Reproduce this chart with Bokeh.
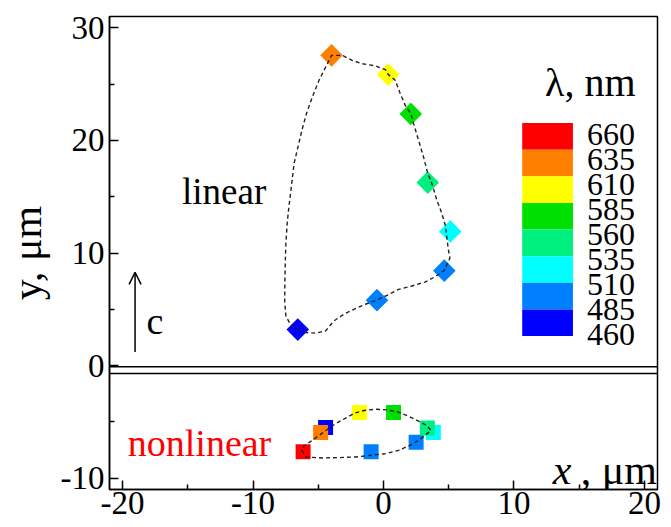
import math
from bokeh.plotting import figure
from bokeh.models import Range1d, FixedTicker, Span, Arrow, OpenHead
from bokeh.core.properties import value
from bokeh.embed import file_html
from bokeh.resources import INLINE

# ---------------- data ----------------
band_colors = ["#FF0000", "#FF8000", "#FFFF00", "#00E000",
               "#00F080", "#00FFFF", "#0080FF", "#0000FF"]
wavelength_labels = ["660", "635", "610", "585", "560", "535", "510", "485", "460"]

lin_x = [-6.57, -0.50, 4.66, 5.12, 3.39, 2.09, 0.36, -3.98]
lin_y = [3.20, 5.81, 8.43, 11.91, 16.25, 22.35, 25.84, 27.55]
lin_color = ["#0000FF", "#0080FF", "#0080FF", "#00FFFF",
             "#00F080", "#00E000", "#FFFF00", "#FF8000"]

nl_x = [-4.44, -0.95, 2.50, 3.82, 3.36, 0.77, -1.84, -4.82, -6.16]
nl_y = [-5.49, -7.64, -6.81, -5.93, -5.55, -4.16, -4.16, -5.93, -7.64]
nl_color = ["#0000FF", "#0080FF", "#0080FF", "#00FFFF",
            "#00F080", "#00E000", "#FFFF00", "#FF8000", "#FF0000"]

lin_curve_x = [-6.57, -5.96, -5.20, -4.43, -3.80, -3.04, -2.15, -1.39, -0.50, 0.27,
               1.15, 2.17, 3.19, 3.95, 4.66, 5.09, 4.97, 4.84, 4.76, 4.46,
               4.08, 3.70, 3.39, 3.06, 2.68, 2.30, 2.10, 1.66, 1.28, 0.90,
               0.37, 0.14, -0.62, -1.64, -2.40, -3.16, -3.98, -4.43, -4.94, -5.45,
               -5.90, -6.25, -6.55, -6.85, -7.00, -7.15, -7.25, -7.38, -7.48, -7.53,
               -7.56, -7.57, -7.48, -7.15, -6.57]
lin_curve_y = [3.21, 2.94, 2.88, 3.09, 3.97, 4.56, 5.06, 5.45, 5.83, 6.24,
               6.77, 7.07, 7.42, 7.89, 8.45, 9.57, 10.31, 11.49, 12.37, 13.55,
               14.73, 16.20, 17.09, 18.56, 20.03, 21.51, 22.36, 23.13, 24.16, 25.34,
               25.84, 26.28, 26.61, 26.81, 27.11, 27.55, 27.55, 26.52, 25.34, 23.87,
               22.39, 20.92, 19.44, 17.97, 16.50, 15.02, 14.14, 12.67, 10.90, 9.13,
               7.36, 5.59, 4.41, 3.68, 3.21]

nl_curve_x = [-6.26, -5.96, -4.69, -3.42, -2.15, -0.95, 0.14, 1.15, 2.04, 2.68,
              3.19, 3.64, 3.31, 2.68, 1.92, 1.15, 0.27, -0.62, -1.39, -2.15,
              -2.91, -3.67, -4.31, -4.94, -5.58, -6.09, -6.26]
nl_curve_y = [-7.52, -8.11, -8.20, -8.17, -8.11, -7.96, -7.82, -7.52, -7.08, -6.64,
              -6.20, -5.75, -5.31, -4.93, -4.49, -4.13, -3.93, -3.87, -3.96, -4.19,
              -4.66, -5.16, -5.67, -6.20, -6.73, -7.14, -7.52]

x_ticks = [-20, -10, 0, 10, 20]
x_tick_labels = ["-20", "-10", "0", "10", "20"]
x_minor_ticks = [-15, -5, 5, 15]
y_ticks = [-10, 0, 10, 20, 30]
y_tick_labels = ["-10", "0", "10", "20", "30"]
y_minor_ticks = [-5, 5, 15, 25]

# ---------------- layout constants ----------------
X_RANGE = (-21, 21)
Y_RANGE = (-11, 31)
BREAK_LINES = [-0.1, -0.7]
CB_LEFT, CB_RIGHT, CB_TOP, CB_BOTTOM = 10.63, 14.52, 21.54, 2.62
CB_LBL_X, CB_LBL_TOP, CB_LBL_BOTTOM = 15.59, 20.48, 2.80
FONT = "Liberation Serif"

p = figure(width=671, height=527, x_range=Range1d(*X_RANGE), y_range=Range1d(*Y_RANGE),
           output_backend="svg", toolbar_location=None,
           min_border_left=106, min_border_right=14, min_border_top=16, min_border_bottom=38)
p.grid.visible = False
p.background_fill_color = "white"
p.border_fill_color = "white"
p.outline_line_color = "black"
p.outline_line_width = 1.5

p.xaxis.ticker = FixedTicker(ticks=x_ticks, minor_ticks=x_minor_ticks)
p.xaxis.major_label_overrides = dict(zip(x_ticks, x_tick_labels))
p.yaxis.ticker = FixedTicker(ticks=y_ticks, minor_ticks=y_minor_ticks)
p.yaxis.major_label_overrides = dict(zip(y_ticks, y_tick_labels))
for ax in (p.xaxis[0], p.yaxis[0]):
    ax.axis_line_width = 1.5
    ax.axis_line_color = "black"
    ax.major_tick_in = 9
    ax.major_tick_out = 0
    ax.minor_tick_in = 5
    ax.minor_tick_out = 0
    ax.major_tick_line_width = 1.5
    ax.minor_tick_line_width = 1.5
    ax.major_tick_line_color = "black"
    ax.minor_tick_line_color = "black"
    ax.major_label_text_font = FONT
    ax.major_label_text_font_size = "33px"
    ax.major_label_text_color = "black"
p.xaxis.major_label_standoff = 2
p.yaxis.major_label_standoff = 5
p.yaxis.axis_label = "y, μm"
p.yaxis.axis_label_text_font = FONT
p.yaxis.axis_label_text_font_size = "42px"
p.yaxis.axis_label_text_font_style = "normal"
p.yaxis.axis_label_text_color = "black"
p.yaxis.axis_label_standoff = 8

# axis break (double line)
for loc in BREAK_LINES:
    p.add_layout(Span(location=loc, dimension="width", line_color="black", line_width=1.5))

# markers
p.scatter(lin_x, lin_y, marker="square", angle=math.pi / 4, size=16,
          fill_color=lin_color, line_color=None)
p.scatter(nl_x, nl_y, marker="square", size=15,
          fill_color=nl_color, line_color=None)

# dashed guide curves
p.line(lin_curve_x, lin_curve_y, line_color="#222222", line_width=1.4, line_dash="4 3")
p.line(nl_curve_x, nl_curve_y, line_color="#222222", line_width=1.4, line_dash="4 3")

# colour bar legend
n = len(band_colors)
h = (CB_TOP - CB_BOTTOM) / n
p.quad(left=[CB_LEFT] * n, right=[CB_RIGHT] * n,
       top=[CB_TOP - i * h for i in range(n)],
       bottom=[CB_TOP - (i + 1) * h for i in range(n)],
       fill_color=band_colors, line_color=None)
m = len(wavelength_labels)
step = (CB_LBL_TOP - CB_LBL_BOTTOM) / (m - 1)
p.text(x=[CB_LBL_X] * m, y=[CB_LBL_TOP - i * step for i in range(m)], text=wavelength_labels,
       text_font=value(FONT), text_font_size="32px", text_baseline="middle",
       text_align="left", text_color="black")

# annotations
p.text(x=[19.32], y=[25.16], text=["λ, nm"], text_font=value(FONT), text_font_size="40px",
       text_align="right", text_baseline="alphabetic", text_color="black")
p.text(x=[12.97], y=[-9.29], text=["x"], text_font=value(FONT), text_font_size="42px",
       text_font_style="italic", text_align="left", text_baseline="alphabetic", text_color="black")
p.text(x=[20.95], y=[-9.29], text=[", μm"], text_font=value(FONT), text_font_size="42px",
       text_align="right", text_baseline="alphabetic", text_color="black")
p.text(x=[-15.44], y=[15.47], text=["linear"], text_font=value(FONT), text_font_size="37px",
       text_align="left", text_baseline="alphabetic", text_color="black")
p.text(x=[-19.6], y=[-6.9], text=["nonlinear"], text_font=value(FONT), text_font_size="38px",
       text_align="left", text_baseline="alphabetic", text_color="#FF0000")
p.text(x=[-18.16], y=[3.97], text=["c"], text_font=value(FONT), text_font_size="38px",
       text_align="left", text_baseline="alphabetic", text_color="black")
p.add_layout(Arrow(end=OpenHead(size=12, line_width=1.5, line_color="black"),
                   x_start=-19.04, y_start=1.2, x_end=-19.04, y_end=8.28,
                   line_width=1.5, line_color="black"))

open("out.html", "w").write(file_html(p, INLINE))
